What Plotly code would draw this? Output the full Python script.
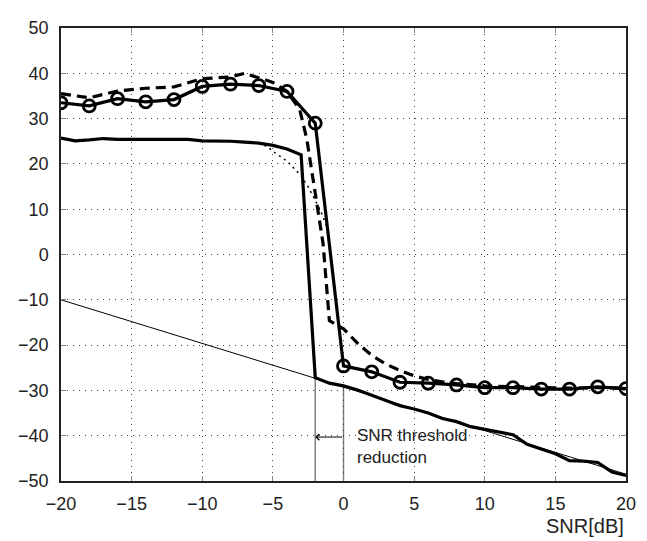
import plotly.graph_objects as go

# ---- data ----
snr_circ = [-20, -18, -16, -14, -12, -10, -8, -6, -4, -2, 0, 2, 4, 6, 8, 10, 12, 14, 16, 18, 20]
mse_circ = [33.5, 32.8, 34.4, 33.7, 34.2, 37.1, 37.6, 37.3, 36.0, 29.0, -24.6, -25.9, -28.2, -28.4,
            -28.8, -29.4, -29.4, -29.7, -29.7, -29.2, -29.6]

snr_dash = [-20, -18, -16, -14, -12, -10, -8, -7, -6, -5, -4, -3.1, -2.6, -1.9, -1.45, -1.0,
            0, 1, 2, 3, 4, 5, 6, 7, 8, 10, 12, 14, 16, 18, 20]
mse_dash = [35.5, 34.6, 36.1, 36.7, 37.0, 38.8, 39.2, 40.0, 39.0, 38.0, 36.0, 32.0, 25.5, 11.3, 2.5, -14.6,
            -16.4, -19.6, -22.3, -24.2, -25.6, -26.8, -27.6, -28.1, -28.5, -29.0, -29.2, -29.4, -29.5, -29.4, -29.5]

snr_solid = [-20, -19, -18, -17, -16, -15, -14, -13, -12, -11, -10, -9, -8, -7, -6, -5, -4, -3,
             -2, -1, 0, 1, 2, 3, 4, 5, 6, 7, 8, 9, 10, 11, 12, 13, 14, 15, 16, 17, 18, 19, 20]
mse_solid = [25.7, 25.1, 25.3, 25.6, 25.4, 25.4, 25.4, 25.3, 25.3, 25.4, 25.1, 25.1, 25.0, 24.8, 24.6, 24.1, 23.3, 22.0,
             -27.2, -28.4, -29.0, -29.9, -31.1, -32.2, -33.4, -34.1, -35.0, -36.2, -36.9, -38.0, -38.6,
             -39.2, -39.8, -41.9, -43.0, -44.0, -45.5, -45.6, -45.9, -48.0, -48.8]

snr_dot = [-6, -5.4, -5, -4, -3, -2.5, -2, -1.5, -1.2]
mse_dot = [24.6, 23.8, 22.8, 20.6, 17.4, 14.9, 12.0, 8.8, 6.3]

snr_bound = [-20, 20]
mse_bound = [-10.0, -48.5]

x_ticks = [-20, -15, -10, -5, 0, 5, 10, 15, 20]
y_ticks = [-50, -40, -30, -20, -10, 0, 10, 20, 30, 40, 50]

thr_old = 0
thr_new = -2
arrow_level = -40.3

fig = go.Figure()

fig.add_trace(go.Scatter(x=snr_bound, y=mse_bound, mode="lines",
                         line=dict(color="black", width=1), showlegend=False))
fig.add_trace(go.Scatter(x=snr_dot, y=mse_dot, mode="lines",
                         line=dict(color="black", width=1.5, dash="2px,4px"), showlegend=False))
fig.add_trace(go.Scatter(x=snr_solid, y=mse_solid, mode="lines",
                         line=dict(color="black", width=3.2), showlegend=False))
fig.add_trace(go.Scatter(x=snr_dash, y=mse_dash, mode="lines",
                         line=dict(color="black", width=3.2, dash="10px,6px"), showlegend=False))
fig.add_trace(go.Scatter(x=snr_circ, y=mse_circ, mode="lines+markers",
                         line=dict(color="black", width=3.2),
                         marker=dict(symbol="circle-open", size=12, color="black",
                                     line=dict(width=2.8, color="black")),
                         showlegend=False))

# threshold markers
fig.add_shape(type="line", x0=thr_new, x1=thr_new, y0=-50, y1=-27.2,
              line=dict(color="#808080", width=1.5), layer="below")
fig.add_shape(type="line", x0=thr_old, x1=thr_old, y0=-50, y1=-29.0,
              line=dict(color="#808080", width=1.5), layer="below")

fig.add_annotation(x=thr_new, y=arrow_level, ax=thr_old, ay=arrow_level,
                   xref="x", yref="y", axref="x", ayref="y",
                   showarrow=True, arrowhead=4, arrowsize=1.2, arrowwidth=1,
                   arrowcolor="black", text="")
fig.add_annotation(x=0.8, y=arrow_level + 2.9, xref="x", yref="y",
                   text="SNR threshold<br>reduction", showarrow=False,
                   xanchor="left", yanchor="top", align="left",
                   font=dict(family="Liberation Sans, Arial", size=17, color="#222"))

fig.add_annotation(x=1.0, y=-0.099, xref="paper", yref="paper",
                   text="SNR[dB]", showarrow=False, xanchor="right", yanchor="middle",
                   font=dict(family="Liberation Sans, Arial", size=20, color="#222"))

axis_common = dict(showgrid=True, gridcolor="#444", gridwidth=1, griddash="1px,5px",
                   showline=True, linecolor="#222", linewidth=1.5, mirror="ticks",
                   ticks="inside", ticklen=5, tickcolor="#888", tickwidth=1,
                   zeroline=False,
                   tickfont=dict(family="Liberation Sans, Arial", size=18, color="#222"))

fig.update_xaxes(range=[-20, 20], tickvals=x_ticks, ticklabelstandoff=6, **axis_common)
fig.update_yaxes(range=[-50, 50], tickvals=y_ticks, ticklabelstandoff=7, **axis_common)

fig.update_layout(width=647, height=541,
                  margin=dict(l=48, r=29, t=10, b=68),
                  plot_bgcolor="white", paper_bgcolor="white",
                  showlegend=False)

fig.write_html("out.html")
